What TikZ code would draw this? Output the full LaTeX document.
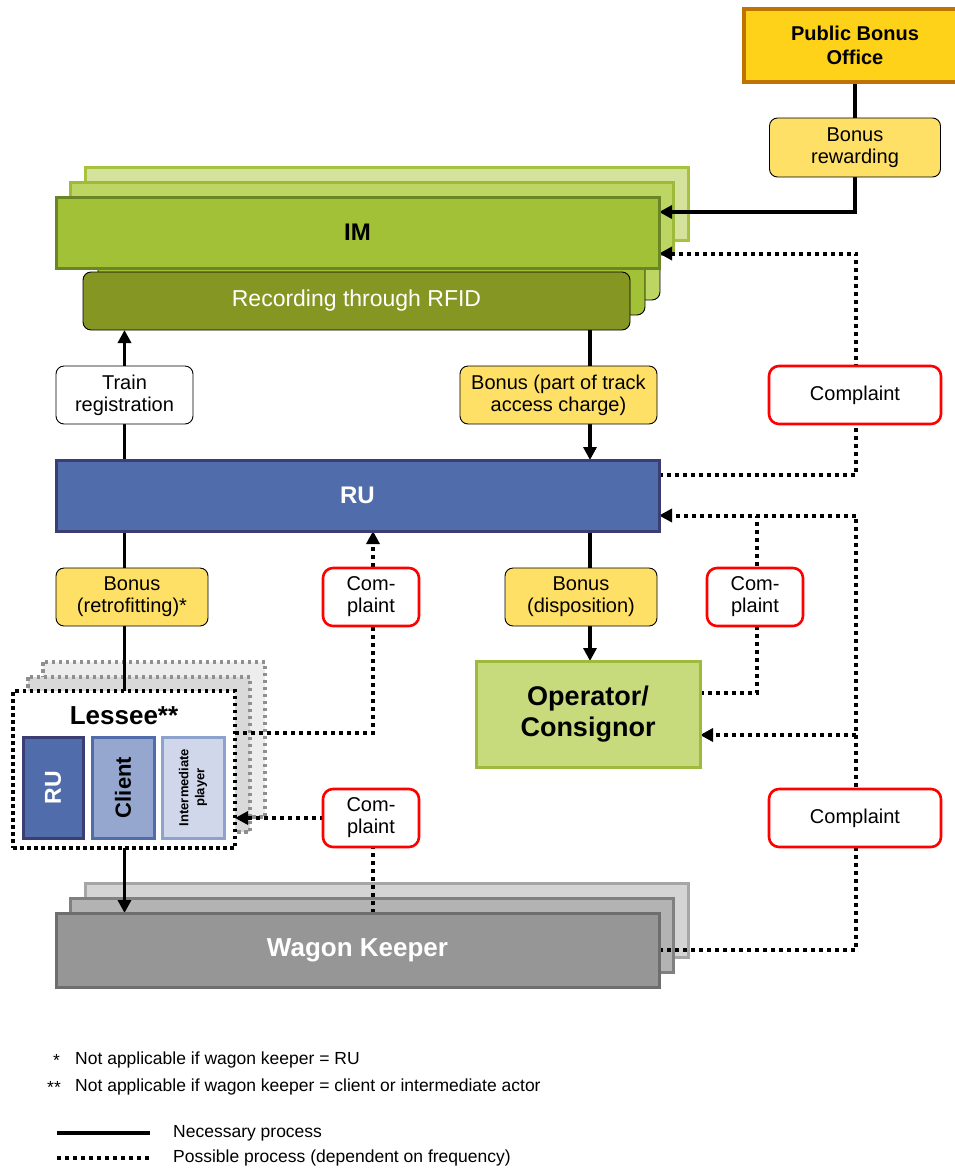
\documentclass[tikz,border=0pt]{standalone}
\usepackage{fontspec}
\setmainfont{Liberation Sans}
\usetikzlibrary{arrows.meta,calc}
\definecolor{imfront}{HTML}{A3C136}
\definecolor{imfrontd}{HTML}{6A8526}
\definecolor{imtwo}{HTML}{BDD563}
\definecolor{imtwod}{HTML}{9DBA3A}
\definecolor{imthree}{HTML}{D4E29B}
\definecolor{imthreed}{HTML}{A6C23E}
\definecolor{recg}{HTML}{869622}
\definecolor{rufill}{HTML}{506CAA}
\definecolor{rudraw}{HTML}{3B3E73}
\definecolor{clfill}{HTML}{95A7CF}
\definecolor{ipfill}{HTML}{D0D7EA}
\definecolor{ipdraw}{HTML}{8EA2CE}
\definecolor{opfill}{HTML}{C7DB7C}
\definecolor{opdraw}{HTML}{9DBA3C}
\definecolor{pbofill}{HTML}{FFD21A}
\definecolor{pbodraw}{HTML}{BF7300}
\definecolor{labely}{HTML}{FFE066}
\definecolor{wkfront}{HTML}{969696}
\definecolor{wkfrontd}{HTML}{6E6E6E}
\definecolor{wktwo}{HTML}{B3B3B3}
\definecolor{wktwod}{HTML}{808080}
\definecolor{wkthree}{HTML}{D4D4D4}
\definecolor{wkthreed}{HTML}{A6A6A6}
\definecolor{lsgray}{HTML}{8F8F8F}
\pgfdeclarelayer{back}
\pgfdeclarelayer{conn}
\pgfsetlayers{back,conn,main}
\tikzset{
  fs/.style={font=\fontsize{20}{22}\selectfont},
  basebox/.style={inner sep=0pt, outer sep=0pt, align=center},
  lbl/.style={basebox, rounded corners=8pt, draw=black, line width=0.9pt, fill=labely, fs},
  whitelbl/.style={basebox, rounded corners=8pt, draw=black, line width=0.9pt, fill=white, fs},
  cpl/.style={basebox, rounded corners=10pt, draw=red, line width=2.6pt, fill=white, fs},
  solidln/.style={line width=3.8pt},
  solidarr/.style={line width=3.8pt, -{Triangle[length=13pt,width=13pt]}},
  dotln/.style={line width=4pt, dash pattern=on 4pt off 4pt},
  dotarr/.style={dotln, -{Triangle[length=13pt,width=13pt]}},
  lsdot/.style={line width=3.5pt, dash pattern=on 3.5pt off 3.5pt},
  legtext/.style={anchor=west, inner sep=0pt, font=\fontsize{17.5}{20}\selectfont},
}
\begin{document}
\begin{tikzpicture}[x=1pt,y=-1pt]
\useasboundingbox (0,0) rectangle (955,1168);

% ---------- stacked back layers ----------
\begin{pgfonlayer}{back}
  % IM stack
  \draw[fill=imtwo, draw=black, line width=0.9pt, rounded corners=8pt] (113,242) rectangle (660,300);
  \draw[fill=imthree, draw=imthreed, line width=3pt] (85,167) rectangle (688,240);
  \draw[fill=imfront, draw=black, line width=0.9pt, rounded corners=8pt] (98,257) rectangle (645,315);
  \draw[fill=imtwo, draw=imtwod, line width=3pt] (70,182) rectangle (673,254);
  % wagon keeper stack
  \draw[fill=wkthree, draw=wkthreed, line width=3pt] (85,883) rectangle (688,957);
  \draw[fill=wktwo, draw=wktwod, line width=3pt] (70,898) rectangle (673,972);
  % lessee stack
  \draw[fill=black!7, draw=lsgray, lsdot] (43,662) rectangle (265,817);
  \draw[fill=black!15, draw=lsgray, lsdot] (28,677) rectangle (250,832);
\end{pgfonlayer}

% ---------- main nodes ----------
\node[basebox, fill=pbofill, draw=pbodraw, line width=4pt, minimum width=222pt, minimum height=73pt,
      font=\fontsize{20}{24}\selectfont\bfseries] (pbo) at (855,45.5) {Public Bonus\\Office};
\node[lbl, minimum width=171pt, minimum height=59pt] (brew) at (855,147.5) {Bonus\\rewarding};

\node[basebox, fill=recg, draw=black, line width=0.9pt, rounded corners=8pt, minimum width=547pt, minimum height=58pt,
      text=white, font=\fontsize{23}{26}\selectfont] (rec) at (356.5,301) {Recording through RFID};
\node[basebox, fill=imfront, draw=imfrontd, line width=3pt, minimum width=603pt, minimum height=71pt,
      font=\fontsize{24}{26}\selectfont\bfseries] (im) at (357.5,232.5) {IM};

\node[whitelbl, minimum width=137pt, minimum height=58pt] (train) at (124.5,395) {Train\\registration};
\node[lbl, minimum width=197pt, minimum height=58pt] (bpart) at (558.5,395) {Bonus (part of track\\access charge)};
\node[cpl, minimum width=172pt, minimum height=58pt] (c1) at (855,395) {Complaint};

\node[basebox, fill=rufill, draw=rudraw, line width=3pt, minimum width=603pt, minimum height=71pt,
      text=white, font=\fontsize{24}{26}\selectfont\bfseries] (ru) at (357.5,495.5) {RU};

\node[lbl, minimum width=152pt, minimum height=58pt] (bretro) at (132,597) {Bonus\\(retrofitting)*};
\node[cpl, minimum width=96pt, minimum height=58pt] (c2) at (371,597) {Com-\\plaint};
\node[lbl, minimum width=152pt, minimum height=58pt] (bdisp) at (581,597) {Bonus\\(disposition)};
\node[cpl, minimum width=96pt, minimum height=58pt] (c3) at (755,597) {Com-\\plaint};

\node[basebox, fill=opfill, draw=opdraw, line width=3pt, minimum width=224pt, minimum height=106pt,
      font=\fontsize{27}{31}\selectfont\bfseries] (op) at (588,714) {Operator/\\Consignor};

\node[basebox, fill=white, draw=black, lsdot, minimum width=222pt, minimum height=157pt] (lessee) at (124,769.5) {};
\node[inner sep=0pt, font=\fontsize{26}{28}\selectfont\bfseries] (lesseet) at (124,716) {Lessee**};
\node[basebox, rotate=90, fill=rufill, draw=rudraw, line width=3pt, minimum width=101pt, minimum height=60pt,
      text=white, font=\fontsize{23}{25}\selectfont\bfseries] (lru) at (53,787.5) {RU};
\node[basebox, rotate=90, fill=clfill, draw=rufill, line width=3pt, minimum width=101pt, minimum height=62pt,
      font=\fontsize{22}{24}\selectfont\bfseries] (lcl) at (123,787.5) {Client};
\node[basebox, rotate=90, fill=ipfill, draw=ipdraw, line width=3pt, minimum width=101pt, minimum height=62pt,
      font=\fontsize{13}{16}\selectfont\bfseries] (lip) at (193,787.5) {Intermediate\\player};

\node[cpl, minimum width=96pt, minimum height=58pt] (c4) at (371,818) {Com-\\plaint};
\node[cpl, minimum width=172pt, minimum height=58pt] (c5) at (855,818) {Complaint};

\node[basebox, fill=wkfront, draw=wkfrontd, line width=3pt, minimum width=603pt, minimum height=74pt,
      text=white, font=\fontsize{26}{28}\selectfont\bfseries] (wk) at (357.5,950) {Wagon Keeper};

% ---------- helper coordinates ----------
\coordinate (xr) at (590,0);
\coordinate (imin) at ([yshift=20.5pt]im.east);
\coordinate (imdot) at ([yshift=-21pt]im.east);
\coordinate (ruout) at ([yshift=20.5pt]ru.east);
\coordinate (ruin) at ([yshift=-20pt]ru.east);
\coordinate (opout) at ([yshift=21pt]op.east);
\coordinate (opin) at ([yshift=-21pt]op.east);
\coordinate (lout) at ([yshift=36.5pt]lessee.east);
\coordinate (lin) at ([yshift=-48.5pt]lessee.east);
\coordinate (c2x) at (373,0);
\coordinate (c3x) at (757,0);
\coordinate (c5x) at (856,0);

% ---------- connectors ----------
\begin{pgfonlayer}{conn}
  \draw[solidarr] (pbo.south) |- (imin);
  \draw[solidarr] (ru.north -| train) -- (rec.south -| train);
  \draw[solidarr] (rec.south -| xr) -- (ru.north -| xr);
  \draw[solidln] (ru.south -| train) -- (lessee.north -| train);
  \draw[solidarr] (ru.south -| xr) -- (op.north -| xr);
  \draw[solidarr] (lessee.south -| train) -- (wk.north -| train);

  \draw[dotarr] (ruout) -| (imdot -| c5x) -- (imdot);
  \draw[dotarr] (wk.east) -| (ruin -| c5x) -- (ruin);
  \draw[dotarr] (opin -| c5x) -- (opin);
  \draw[dotln] (opout) -| (ruin -| c3x);
  \draw[dotarr] (lout) -| (ru.south -| c2x);
  \draw[dotarr] (wk.north -| c2x) |- (lin);
\end{pgfonlayer}

% ---------- legend ----------
\node[legtext] (star1) at (53,1060) {*};
\node[legtext] (note1) at (75,1060) {Not applicable if wagon keeper = RU};
\node[legtext] (star2) at (47,1087) {**};
\node[legtext] (note2) at (75,1087) {Not applicable if wagon keeper = client or intermediate actor};
\coordinate (lg1a) at (57,1133);
\coordinate (lg1b) at (150,1133);
\coordinate (lg2a) at (57,1158);
\coordinate (lg2b) at (150,1158);
\draw[line width=4pt] (lg1a) -- (lg1b);
\draw[dotln] (lg2a) -- (lg2b);
\node[legtext] (leg1) at (173,1133) {Necessary process};
\node[legtext] (leg2) at (173,1158) {Possible process (dependent on frequency)};
\end{tikzpicture}
\end{document}
